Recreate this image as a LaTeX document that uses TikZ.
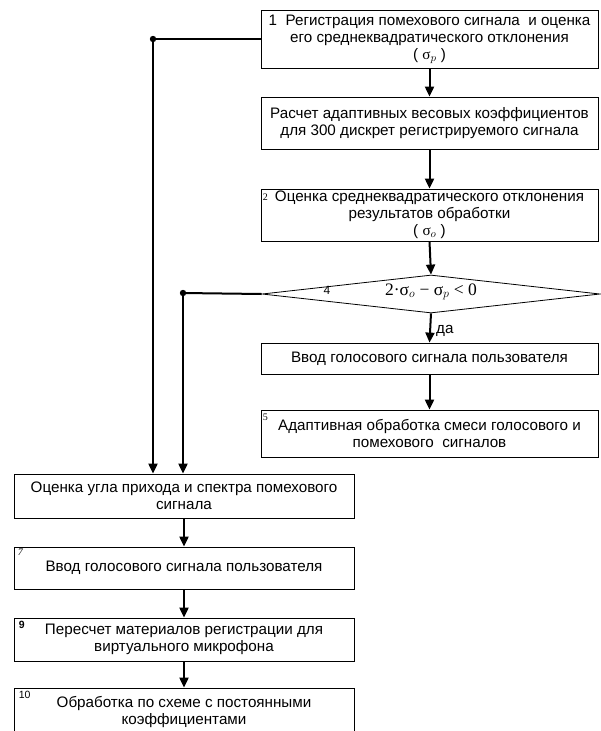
\documentclass[tikz,border=0pt]{standalone}
\usepackage{fontspec}
\setmainfont{Liberation Sans}
\newfontfamily\serifnum{Liberation Serif}
\usetikzlibrary{arrows.meta,shapes.geometric}
\begin{document}
\begin{tikzpicture}[x=1pt,y=-1pt,
  box/.style={draw, line width=0.8pt, rectangle, inner sep=0pt, align=center,
    font=\fontsize{15.2}{17}\selectfont},
  conn/.style={line width=2pt, -{Triangle[length=10pt,width=9pt]}},
  wire/.style={line width=2pt},
  num/.style={font=\fontsize{9}{9}\selectfont, inner sep=0pt, anchor=north west},
  lbl/.style={font=\fontsize{15.2}{17}\selectfont, inner sep=0pt},
  ]
\useasboundingbox (0,0) rectangle (601,731);
% right column
\node[box, minimum width=337pt, minimum height=58pt] (b1) at (429.5,39)
  {1\ \ Регистрация помехового сигнала\ \ и оценка\\его среднеквадратического отклонения\\( {\serifnum σ}$_p$ )};
\node[box, minimum width=337pt, minimum height=52pt] (b2) at (429.5,123)
  {Расчет адаптивных весовых коэффициентов\\для 300 дискрет регистрируемого сигнала};
\node[box, minimum width=337pt, minimum height=52pt] (b3) at (429.5,215)
  {Оценка среднеквадратического отклонения\\результатов обработки\\( {\serifnum σ}$_o$ )};
\node[num, font=\serifnum\fontsize{10}{10}\selectfont] (n2) at ([xshift=2pt,yshift=-5pt]b3.north west) {2};
\node[draw, diamond, line width=0.8pt, inner sep=0pt, minimum width=338pt, minimum height=38pt] (dm) at (431,294) {};
\node[lbl, font=\serifnum\fontsize{17.5}{18}\selectfont] (frm) at (431,292) {2·σ$_o$ − σ$_p$ < 0};
\node[lbl, font=\fontsize{12}{12}\selectfont] (n4) at (327,290) {4};
\node[box, minimum width=337pt, minimum height=31pt] (b4) at (429.5,358.5)
  {Ввод голосового сигнала пользователя};
\node[box, minimum width=337pt, minimum height=47pt] (b5) at (429.5,433.5)
  {Адаптивная обработка смеси голосового и\\помехового\ \ сигналов};
\node[num, font=\serifnum\fontsize{10}{10}\selectfont] (n5) at ([xshift=2pt,yshift=-4pt]b5.north west) {5};
% left column
\node[box, minimum width=340pt, minimum height=44pt] (b6) at (184,496)
  {Оценка угла прихода и спектра помехового\\сигнала};
\node[box, minimum width=340pt, minimum height=42pt] (b7) at (184,568)
  {Ввод голосового сигнала пользователя};
\node[num, font=\serifnum\itshape\fontsize{10}{10}\selectfont] (n7) at ([xshift=4pt,yshift=-2pt]b7.north west) {7};
\node[box, minimum width=340pt, minimum height=43pt] (b8) at (184,639.5)
  {Пересчет материалов регистрации для\\виртуального микрофона};
\node[num, font=\bfseries\fontsize{10.5}{10.5}\selectfont] (n9) at ([xshift=5pt,yshift=-3pt]b8.north west) {9};
\node[box, minimum width=340pt, minimum height=48pt] (b9) at (184,712)
  {Обработка по схеме с постоянными\\коэффициентами};
\node[num, font=\fontsize{10.5}{10.5}\selectfont] (n10) at ([xshift=5pt,yshift=-3pt]b9.north west) {10};
% connectors
\draw[conn] (b1.south) -- (b2.north);
\draw[conn] (b2.south) -- (b3.north);
\draw[conn] (b3.south) -- (dm.north);
\draw[conn] (dm.south) -- (b4.north);
\node[lbl, anchor=west] (yes) at (436,331) {да};
\draw[conn] (b4.south) -- (b5.north);
\coordinate (d1) at (153,39);
\coordinate (d2) at (183,293);
\draw[wire] (b1.west) -- (d1);
\draw[conn] (d1) -- (d1 |- b6.north);
\draw[wire] (dm.west) -- (d2);
\draw[conn] (d2) -- (d2 |- b6.north);
\fill (d1) circle (3.2pt);
\fill (d2) circle (3.2pt);
\draw[conn] (b6.south) -- (b7.north);
\draw[conn] (b7.south) -- (b8.north);
\draw[conn] (b8.south) -- (b9.north);
\end{tikzpicture}
\end{document}
